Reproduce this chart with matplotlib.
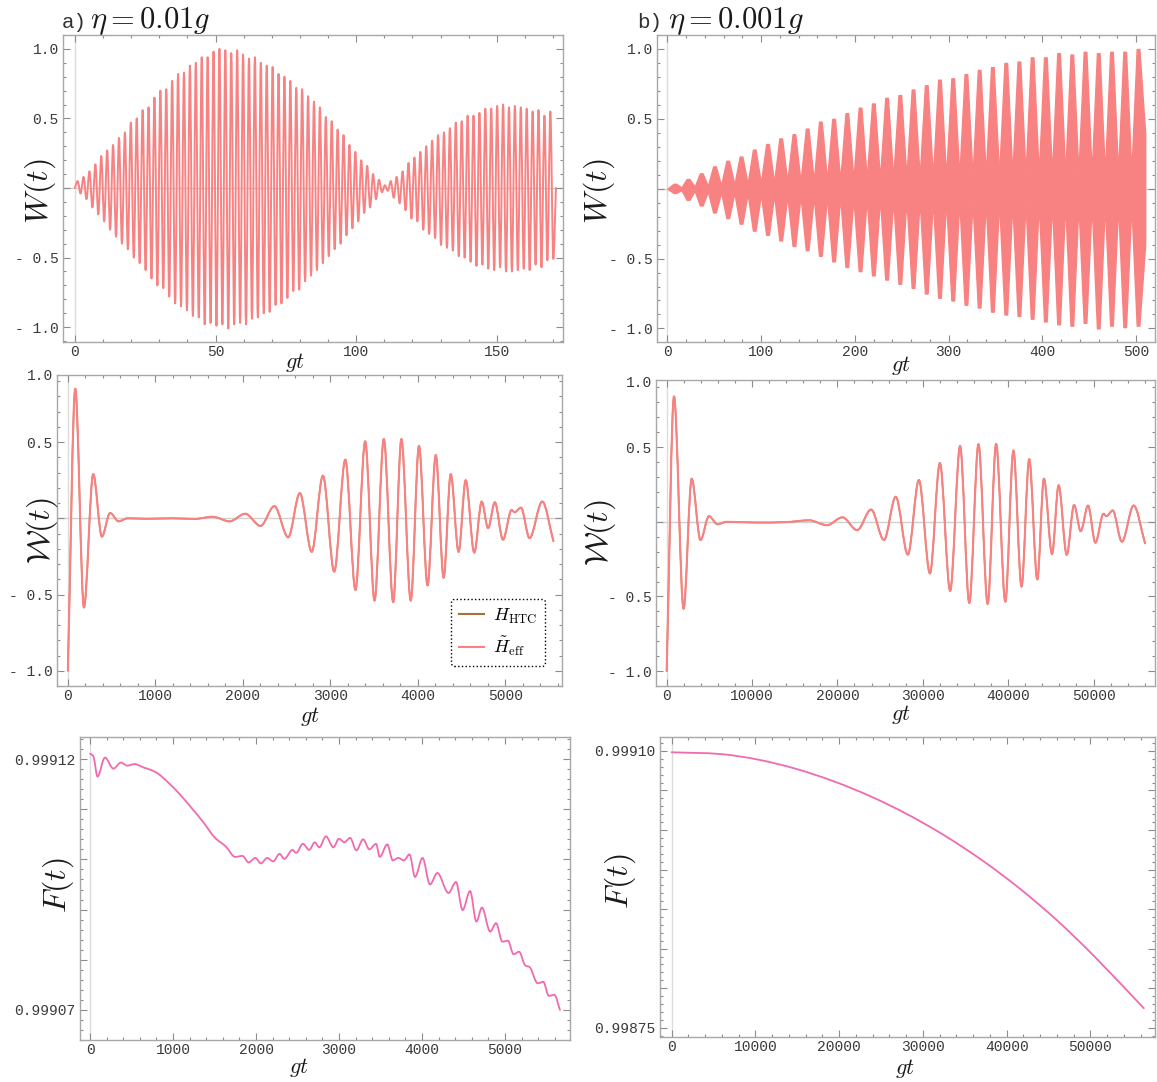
import numpy as np
import matplotlib
matplotlib.use("Agg")
import matplotlib.pyplot as plt
from matplotlib.path import Path
from matplotlib.patches import PathPatch
from matplotlib.lines import Line2D
from matplotlib.ticker import MultipleLocator, FuncFormatter

plt.rcParams['mathtext.fontset'] = 'cm'
plt.rcParams['font.family'] = ['DejaVu Sans']

# ---------------- data ----------------
# (a) top: W(t), eta = 0.01 g  -- successive maxima / minima
a_top_peak_t = [1.0, 3.1, 5.2, 7.3, 9.4, 11.5, 13.6, 15.7, 17.8, 19.9, 22.0, 24.1, 26.2, 28.3, 30.4,
                32.5, 34.6, 36.7, 38.8, 40.9, 43.0, 45.1, 47.2, 49.3, 51.4, 53.5, 55.6, 57.7, 59.8,
                61.9, 64.0, 66.1, 68.2, 70.3, 72.4, 74.5, 76.6, 78.7, 80.8, 82.9, 85.0, 87.1, 89.2,
                91.3, 93.4, 95.5, 97.6, 99.7, 101.8, 103.9, 106.0, 108.1, 110.2, 112.3, 114.4, 116.5,
                118.6, 120.7, 122.8, 124.9, 127.0, 129.1, 131.2, 133.3, 135.4, 137.5, 139.6, 141.7,
                143.8, 145.9, 148.0, 150.1, 152.2, 154.3, 156.4, 158.5, 160.6, 162.7, 164.8, 166.9, 169.0]
a_top_peak_w = [0.05, 0.08, 0.12, 0.17, 0.23, 0.27, 0.31, 0.36, 0.40, 0.47,
                0.50, 0.56, 0.58, 0.65, 0.70, 0.71, 0.77, 0.82, 0.83, 0.88,
                0.90, 0.94, 0.94, 0.98, 1.00, 0.99, 0.97, 0.99, 0.96, 0.93,
                0.94, 0.90, 0.88, 0.87, 0.82, 0.80, 0.77, 0.72, 0.71, 0.66,
                0.62, 0.58, 0.51, 0.48, 0.42, 0.38, 0.31, 0.26, 0.20, 0.16,
                0.10, 0.06, 0.02, 0.05, 0.08, 0.12, 0.18, 0.22, 0.26, 0.30,
                0.34, 0.38, 0.40, 0.43, 0.47, 0.48, 0.52, 0.52, 0.54, 0.57,
                0.57, 0.59, 0.60, 0.58, 0.59, 0.58, 0.57, 0.55, 0.56, 0.52,
                0.55]
a_top_trough_t = [2.05, 4.15, 6.25, 8.35, 10.45, 12.55, 14.65, 16.75, 18.85, 20.95, 23.05, 25.15,
                  27.25, 29.35, 31.45, 33.55, 35.65, 37.75, 39.85, 41.95, 44.05, 46.15, 48.25, 50.35,
                  52.45, 54.55, 56.65, 58.75, 60.85, 62.95, 65.05, 67.15, 69.25, 71.35, 73.45, 75.55,
                  77.65, 79.75, 81.85, 83.95, 86.05, 88.15, 90.25, 92.35, 94.45, 96.55, 98.65, 100.75,
                  102.85, 104.95, 107.05, 109.15, 111.25, 113.35, 115.45, 117.55, 119.65, 121.75,
                  123.85, 125.95, 128.05, 130.15, 132.25, 134.35, 136.45, 138.55, 140.65, 142.75,
                  144.85, 146.95, 149.05, 151.15, 153.25, 155.35, 157.45, 159.55, 161.65, 163.75,
                  165.85, 167.95, 170.05]
a_top_trough_w = [-0.04, -0.08, -0.14, -0.19, -0.24, -0.30, -0.35, -0.40, -0.44, -0.50,
                  -0.54, -0.59, -0.65, -0.70, -0.72, -0.78, -0.83, -0.85, -0.88, -0.92,
                  -0.93, -0.98, -0.97, -0.99, -0.98, -1.01, -0.98, -0.97, -0.98, -0.94,
                  -0.93, -0.90, -0.89, -0.84, -0.83, -0.79, -0.74, -0.73, -0.67, -0.63,
                  -0.59, -0.54, -0.49, -0.44, -0.40, -0.34, -0.29, -0.24, -0.18, -0.14,
                  -0.08, -0.03, -0.02, -0.07, -0.11, -0.16, -0.22, -0.24, -0.30, -0.33,
                  -0.36, -0.41, -0.43, -0.45, -0.49, -0.50, -0.53, -0.56, -0.55, -0.58,
                  -0.59, -0.57, -0.60, -0.60, -0.59, -0.58, -0.59, -0.55, -0.57, -0.52,
                  -0.51]
a_top_start = (0.0, 0.0)
a_top_end = (171.0, 0.0)

# (b) top: W(t), eta = 0.001 g -- bursts of fast oscillation
b_top_burst_t = [8.0, 22.1, 36.2, 50.3, 64.4, 78.6, 92.7, 106.8, 120.9, 135.0, 149.1, 163.2,
                 177.3, 191.4, 205.5, 219.7, 233.8, 247.9, 262.0, 276.1, 290.2, 304.3, 318.4,
                 332.5, 346.6, 360.9, 374.9, 389.0, 403.1, 417.2, 431.3, 445.4, 459.5, 473.6,
                 487.7, 501.9]
b_top_burst_hi = [0.035, 0.07, 0.11, 0.16, 0.20, 0.23, 0.28, 0.32, 0.36, 0.39, 0.43, 0.48,
                  0.50, 0.54, 0.58, 0.61, 0.65, 0.67, 0.71, 0.74, 0.78, 0.79, 0.82, 0.85,
                  0.87, 0.90, 0.91, 0.94, 0.94, 0.97, 0.96, 0.98, 0.97, 0.98, 0.98, 1.00]
b_top_burst_lo = [-0.03, -0.08, -0.12, -0.17, -0.21, -0.25, -0.30, -0.33, -0.37, -0.41, -0.44,
                  -0.48, -0.52, -0.56, -0.59, -0.62, -0.65, -0.68, -0.71, -0.75, -0.78, -0.80,
                  -0.83, -0.85, -0.88, -0.90, -0.91, -0.93, -0.95, -0.97, -0.98, -0.96, -1.00,
                  -0.98, -0.99, -0.98]
b_top_gap_t = [0.0, 15.05, 29.15, 43.25, 57.35, 71.5, 85.65, 99.75, 113.85, 127.95, 142.05,
               156.15, 170.25, 184.35, 198.45, 212.6, 226.75, 240.85, 254.95, 269.05, 283.15,
               297.25, 311.35, 325.45, 339.55, 353.75, 367.9, 381.95, 396.05, 410.15, 424.25,
               438.35, 452.45, 466.55, 480.65, 494.8, 509.5]
b_top_gap_amp = [0.0, 0.01, 0.015, 0.02, 0.025, 0.03, 0.035, 0.04, 0.045, 0.05, 0.05, 0.055,
                 0.06, 0.06, 0.065, 0.07, 0.07, 0.075, 0.08, 0.08, 0.085, 0.085, 0.09, 0.09,
                 0.095, 0.095, 0.1, 0.1, 0.1, 0.105, 0.105, 0.11, 0.11, 0.11, 0.115, 0.115, 0.40]

# (a) middle: calligraphic W(t), successive extrema
a_mid_t = [0, 85, 184, 290, 389, 483, 580, 683, 900, 1200, 1450, 1657, 1850, 2028, 2203, 2361,
           2519, 2652, 2788, 2916, 3045, 3172, 3288, 3399, 3506, 3612, 3719, 3813, 3920, 4014,
           4112, 4206, 4296, 4377, 4467, 4548, 4646, 4731, 4804, 4881, 4974, 5073, 5107, 5180,
           5278, 5423, 5551]
a_mid_w = [-1.0, 0.85, -0.585, 0.29, -0.12, 0.035, -0.02, 0.0, -0.003, 0.0, -0.004, 0.01, -0.02,
           0.03, -0.05, 0.08, -0.125, 0.165, -0.22, 0.28, -0.35, 0.385, -0.47, 0.505, -0.54, 0.52,
           -0.55, 0.52, -0.54, 0.475, -0.44, 0.415, -0.39, 0.29, -0.22, 0.25, -0.225, 0.11,
           -0.065, 0.105, -0.14, 0.055, 0.04, 0.07, -0.13, 0.11, -0.15]

# (b) middle
b_mid_t = [0, 861, 1981, 2929, 3962, 4953, 5944, 7020, 10466, 14000, 16711, 18779, 20588, 22311,
           23947, 25455, 26833, 28254, 29546, 30838, 32001, 33207, 34370, 35447, 36523, 37600,
           38591, 39668, 40615, 41563, 42467, 43415, 44190, 45137, 45913, 46861, 47722, 48497,
           49358, 50220, 51168, 51512, 52244, 53321, 54700, 56035]
b_mid_w = [-1.0, 0.84, -0.583, 0.289, -0.122, 0.038, -0.016, 0.0, -0.005, -0.002, 0.01, -0.023,
           0.03, -0.056, 0.082, -0.122, 0.168, -0.22, 0.28, -0.346, 0.394, -0.463, 0.508, -0.544,
           0.52, -0.55, 0.522, -0.535, 0.478, -0.434, 0.42, -0.386, 0.289, -0.216, 0.245, -0.221,
           0.113, -0.063, 0.109, -0.14, 0.054, 0.038, 0.076, -0.133, 0.109, -0.144]

# (a) bottom: fidelity F(t)
a_bot_t = [0, 45, 90, 179, 282, 371, 448, 537, 649, 739, 828, 962, 1097, 1231, 1365, 1500, 1634,
           1750, 1835, 1911, 1992, 2059, 2135, 2207, 2283, 2341, 2439, 2484, 2565, 2641, 2708,
           2762, 2842, 2932, 2999, 3066, 3133, 3209, 3290, 3366, 3446, 3491, 3581, 3648, 3715,
           3782, 3849, 3916, 4006, 4096, 4185, 4319, 4409, 4489, 4579, 4655, 4722, 4821, 4892,
           4968, 5035, 5103, 5170, 5237, 5304, 5394, 5461, 5528, 5595, 5662]
a_bot_f = [0.9991211, 0.9991203, 0.9991165, 0.9991203, 0.9991181, 0.9991193, 0.9991187,
           0.9991190, 0.9991183, 0.9991178, 0.9991170, 0.9991150, 0.9991127, 0.9991101,
           0.9991074, 0.9991044, 0.9991026, 0.9991005, 0.9991007, 0.9990994, 0.9991003,
           0.9990992, 0.9991003, 0.9990996, 0.9991011, 0.9991001, 0.9991019, 0.9991013,
           0.9991031, 0.9991019, 0.9991034, 0.9991024, 0.9991046, 0.9991024, 0.9991041,
           0.9991034, 0.9991043, 0.9991018, 0.9991040, 0.9991020, 0.9991031, 0.9991005,
           0.9991030, 0.9990998, 0.9991003, 0.9990998, 0.9991010, 0.9990965, 0.9991003,
           0.9990950, 0.9990973, 0.9990933, 0.9990955, 0.9990899, 0.9990937, 0.9990876,
           0.9990904, 0.9990856, 0.9990873, 0.9990836, 0.9990838, 0.9990811, 0.9990816,
           0.9990790, 0.9990784, 0.9990753, 0.9990756, 0.9990728, 0.9990730, 0.9990700]

# (b) bottom
b_bot_t = [0, 5882, 10338, 14794, 19250, 23706, 28162, 32618, 37074, 41530, 45986, 50442, 56368]
b_bot_f = [0.9990983, 0.9990960, 0.9990890, 0.9990775, 0.9990620, 0.9990428, 0.9990198,
           0.9989928, 0.9989617, 0.9989262, 0.9988860, 0.9988405, 0.9987747]

title_a = r'$\eta = 0.01g$'
title_b = r'$\eta = 0.001g$'

# ---------------- style ----------------
SALMON = '#f88282'
PINK = '#f26aae'
BROWN = '#a5703c'
FRAME = '#a8a8a8'
TICKC = '#8c8c8c'
LABC = '#3a3a3a'
MONO = 'Liberation Mono'
BURST_TOP_HALFWIDTH = 1.4   # drawing width of a burst's top, in gt units

W, H = 1157, 1082
fig = plt.figure(figsize=(W / 100, H / 100), dpi=100)


def axes_px(l, t, r, b):
    return fig.add_axes([l / W, 1 - b / H, (r - l) / W, (b - t) / H])


def smooth_curve(ax, x, y, **kw):
    """Cubic Bezier path through the read points (horizontal tangents at extrema)."""
    x = np.asarray(x, float)
    y = np.asarray(y, float)
    h = np.diff(x)
    s = np.diff(y) / h
    m = np.zeros_like(x)
    m[0], m[-1] = s[0], s[-1]
    for i in range(1, len(x) - 1):
        if s[i - 1] * s[i] > 0:
            c = (y[i + 1] - y[i - 1]) / (x[i + 1] - x[i - 1])
            lim = 3 * min(abs(s[i - 1]), abs(s[i]))
            m[i] = np.sign(c) * min(abs(c), lim)
    verts = [(x[0], y[0])]
    codes = [Path.MOVETO]
    for i in range(len(h)):
        verts += [(x[i] + h[i] / 3, y[i] + m[i] * h[i] / 3),
                  (x[i + 1] - h[i] / 3, y[i + 1] - m[i + 1] * h[i] / 3),
                  (x[i + 1], y[i + 1])]
        codes += [Path.CURVE4] * 3
    ax.add_patch(PathPatch(Path(verts, codes), fill=False, capstyle='round',
                           joinstyle='round', **kw))


def w_fmt(v, pos):
    if abs(v) < 1e-9:
        return ''
    s = f'{abs(v):.1f}'
    return '- ' + s if v < 0 else s


def int_fmt(v, pos):
    return f'{int(round(v))}'


def style(ax, xmaj, xmin, ymaj, ymin, yfmt):
    for sp in ax.spines.values():
        sp.set_color(FRAME)
        sp.set_linewidth(1.0)
    ax.xaxis.set_major_locator(MultipleLocator(xmaj))
    ax.xaxis.set_minor_locator(MultipleLocator(xmin))
    ax.yaxis.set_major_locator(MultipleLocator(ymaj))
    ax.yaxis.set_minor_locator(MultipleLocator(ymin))
    ax.xaxis.set_major_formatter(FuncFormatter(int_fmt))
    ax.yaxis.set_major_formatter(FuncFormatter(yfmt))
    ax.tick_params(which='both', direction='in', top=True, right=True, color=TICKC,
                   width=0.8, labelcolor=LABC, labelsize=10.5, labelfontfamily=MONO)
    ax.tick_params(which='major', length=5, pad=3)
    ax.tick_params(which='minor', length=2.5)
    ax.tick_params(axis='x', pad=2)


def labels(ax, ylab, ylx, yly, xlx, xly, ysize=23):
    ax.text(ylx, yly, ylab, transform=ax.transAxes, rotation=90, ha='center', va='center',
            fontsize=ysize, color='#1a1a1a')
    ax.text(xlx, xly, r'$gt$', transform=ax.transAxes, ha='center', va='top',
            fontsize=16, color='#1a1a1a')


# ---- (a) top ----
ax = axes_px(63, 35, 563, 342)
ax.axhline(0, color='#d0d0d0', lw=1.0, zorder=0)
ax.axvline(0, color='#dcdcdc', lw=1.0, zorder=0)
xs = [a_top_start[0]]
ys = [a_top_start[1]]
for tp, wp, tt, wt in zip(a_top_peak_t, a_top_peak_w, a_top_trough_t, a_top_trough_w):
    xs += [tp, tt]
    ys += [wp, wt]
xs.append(a_top_end[0])
ys.append(a_top_end[1])
smooth_curve(ax, xs, ys, edgecolor=SALMON, lw=1.4)
ax.set_xlim(-4.2, 173.5)
ax.set_ylim(-1.107, 1.10)
style(ax, 50, 10, 0.5, 0.1, w_fmt)
labels(ax, r'$W(t)$', -0.046, 0.49, 0.464, -0.03)

# ---- (b) top ----
ax = axes_px(657, 35, 1155, 342)
ax.axhline(0, color='#d0d0d0', lw=1.0, zorder=0)
ax.axvline(0, color='#dcdcdc', lw=1.0, zorder=0)
bx, bhi, blo = [], [], []
for i in range(len(b_top_burst_t)):
    c = b_top_burst_t[i]
    bx += [b_top_gap_t[i], c - BURST_TOP_HALFWIDTH, c + BURST_TOP_HALFWIDTH]
    bhi += [b_top_gap_amp[i], b_top_burst_hi[i], b_top_burst_hi[i]]
    blo += [-b_top_gap_amp[i], b_top_burst_lo[i], b_top_burst_lo[i]]
bx.append(b_top_gap_t[-1])
bhi.append(b_top_gap_amp[-1])
blo.append(-b_top_gap_amp[-1])
ax.fill_between(bx, blo, bhi, facecolor=SALMON, edgecolor=SALMON, linewidth=1.0)
ax.set_xlim(-11, 520)
ax.set_ylim(-1.097, 1.10)
style(ax, 100, 20, 0.5, 0.1, w_fmt)
labels(ax, r'$W(t)$', -0.115, 0.49, 0.49, -0.04)

# ---- (a) middle ----
ax = axes_px(57, 375, 562, 686)
ax.axhline(0, color='#d0d0d0', lw=1.0, zorder=0)
ax.axvline(0, color='#dcdcdc', lw=1.0, zorder=0)
smooth_curve(ax, a_mid_t, a_mid_w, edgecolor=BROWN, lw=1.1)
smooth_curve(ax, a_mid_t, a_mid_w, edgecolor=SALMON, lw=1.5)
ax.set_xlim(-124, 5649)
ax.set_ylim(-1.1, 0.94)
style(ax, 1000, 200, 0.5, 0.1, w_fmt)
ax.annotate('1.0', xy=(0, 1), xycoords='axes fraction', xytext=(-3, -1),
            textcoords='offset points', ha='right', va='center', fontsize=10.5,
            family=MONO, color=LABC)
labels(ax, r'$\mathcal{W}(t)$', -0.03, 0.50, 0.50, -0.062)
handles = [Line2D([], [], color=BROWN, lw=1.5), Line2D([], [], color=SALMON, lw=1.5)]
leg = ax.legend(handles, [r'$H_{\rm HTC}$', r'$\tilde{H}_{\rm eff}$'], loc='lower right',
                bbox_to_anchor=(0.985, 0.035), fontsize=13, handlelength=1.4,
                handletextpad=0.5, borderpad=0.45, labelspacing=0.5, fancybox=True,
                framealpha=1.0)
fr = leg.get_frame()
fr.set_edgecolor('black')
fr.set_linestyle(':')
fr.set_linewidth(1.0)

# ---- (b) middle ----
ax = axes_px(656, 380, 1155, 686)
ax.axhline(0, color='#d0d0d0', lw=1.0, zorder=0)
ax.axvline(0, color='#dcdcdc', lw=1.0, zorder=0)
smooth_curve(ax, b_mid_t, b_mid_w, edgecolor=BROWN, lw=1.1)
smooth_curve(ax, b_mid_t, b_mid_w, edgecolor=SALMON, lw=1.5)
ax.set_xlim(-1250, 57200)
ax.set_ylim(-1.1, 0.95)
style(ax, 10000, 2000, 0.5, 0.1, w_fmt)
ax.annotate('1.0', xy=(0, 1), xycoords='axes fraction', xytext=(-3, -2),
            textcoords='offset points', ha='right', va='center', fontsize=10.5,
            family=MONO, color=LABC)
labels(ax, r'$\mathcal{W}(t)$', -0.112, 0.50, 0.49, -0.056)

# ---- (a) bottom ----
ax = axes_px(80, 737, 570, 1040)
ax.axvline(0, color='#dcdcdc', lw=1.0, zorder=0)
smooth_curve(ax, a_bot_t, a_bot_f, edgecolor=PINK, lw=1.3)
ax.set_xlim(-121, 5783)
ax.set_ylim(0.999064, 0.9991244)
style(ax, 1000, 200, 1e-5, 2e-6, lambda v, p: '')
ax.set_yticks([0.99907, 0.99908, 0.99909, 0.99910, 0.99911, 0.99912])
ax.set_yticklabels(['0.99907', '', '', '', '', '0.99912'])
labels(ax, r'$F(t)$', -0.045, 0.51, 0.447, -0.053)

# ---- (b) bottom ----
ax = axes_px(660, 737, 1155, 1037)
ax.axvline(0, color='#dcdcdc', lw=1.0, zorder=0)
smooth_curve(ax, b_bot_t, b_bot_f, edgecolor=PINK, lw=1.3)
ax.set_xlim(-1381, 57705)
ax.set_ylim(0.9987383, 0.9991176)
style(ax, 10000, 2000, 5e-5, 1e-5, lambda v, p: '')
ax.set_yticks([0.99875, 0.99880, 0.99885, 0.99890, 0.99895, 0.99900, 0.99905, 0.99910])
ax.set_yticklabels(['0.99875', '', '', '', '', '', '', '0.99910'])
labels(ax, r'$F(t)$', -0.08, 0.52, 0.495, -0.067)

# ---- panel titles ----
fig.text(62 / W, 1 - 28 / H, 'a)', family=MONO, fontsize=15, va='baseline', color='#333333')
fig.text(90 / W, 1 - 28 / H, title_a, fontsize=22, va='baseline', color='#1a1a1a')
fig.text(637 / W, 1 - 28 / H, 'b)', family=MONO, fontsize=15, va='baseline', color='#333333')
fig.text(668 / W, 1 - 28 / H, title_b, fontsize=22, va='baseline', color='#1a1a1a')

fig.savefig('out.png', dpi=100, facecolor='white')
